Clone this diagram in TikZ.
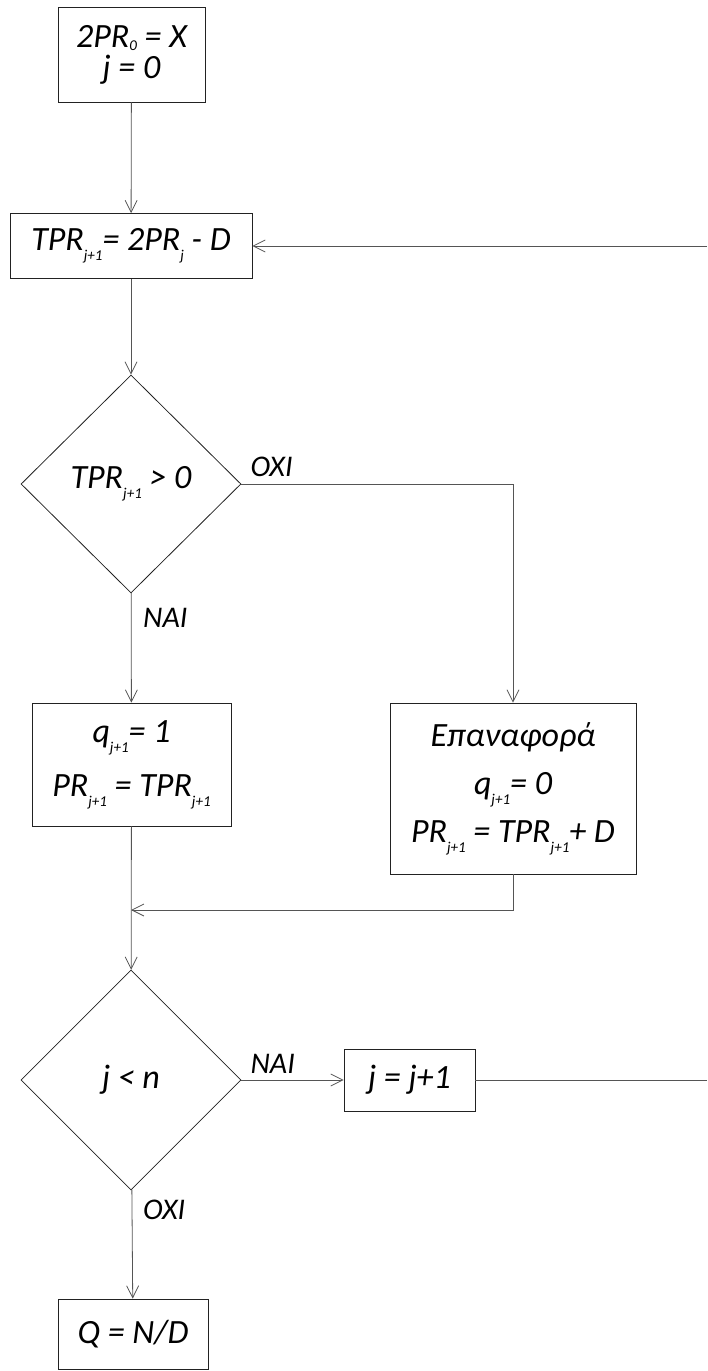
\documentclass[tikz,border=0pt]{standalone}
\usepackage{fontspec}
\setmainfont{Carlito}
\usetikzlibrary{positioning,arrows.meta,shapes.geometric}
\definecolor{ink}{HTML}{222222}
\definecolor{wire}{HTML}{555555}
% small lowered index, as in the drawing
\newcommand{\ix}[2][-10pt]{\raisebox{#1}{\fontsize{15}{15}\selectfont #2}}

\begin{document}
\begin{tikzpicture}[x=1pt, y=-1pt, >={Straight Barb[length=12pt,width=12pt]},
    font=\fontsize{34}{40}\selectfont\itshape]
  \tikzset{
    stepbox/.style={draw=ink, line width=0.8pt, align=center, inner sep=0pt},
    test/.style={draw=ink, line width=0.8pt, diamond, align=center, inner sep=0pt,
      minimum width=220pt, minimum height=218pt},
    flow/.style={draw=wire, line width=0.8pt, ->},
    wire line/.style={draw=wire, line width=0.8pt},
    tag/.style={font=\fontsize{30}{32}\selectfont\itshape, inner sep=0pt, anchor=base west}
  }
  \useasboundingbox (0,0) rectangle (707,1371);

  % start and trial subtraction
  \node[stepbox, minimum width=147pt, minimum height=95pt] (init) at (131.5,54.5)
    {2PR\ix[-3pt]{0} = X\\[-9pt] j = 0};
  \node[stepbox, minimum width=242pt, minimum height=65pt] (trial) at (131,246)
    {TPR\ix{j+1}= 2PR\ix{j} - D};
  \coordinate (loopin) at (707,246);

  % sign test
  \node[test] (sign) at (131,484) {TPR\ix{j+1} > 0};
  \node[stepbox, minimum width=199pt, minimum height=123pt] (keep) at (131.5,764.5)
    {q\ix{j+1}= 1\\[14pt] PR\ix{j+1} = TPR\ix{j+1}};
  \node[stepbox, minimum width=246pt, minimum height=171pt] (restore) at (513,788.5)
    {Επαναφορά\\[8pt] q\ix{j+1}= 0\\[8pt] PR\ix{j+1} = TPR\ix{j+1}+ D};
  \coordinate (join) at (131,910);

  % loop test
  \node[test, minimum height=220pt] (count) at (131,1080) {j < n};
  \node[stepbox, minimum width=131pt, minimum height=62pt] (next) at (409.5,1080) {j = j+1};
  \coordinate (loopout) at (707,1080);
  \node[stepbox, minimum width=150pt, minimum height=70pt] (done) at (133,1334) {Q = N/D};

  % labels
  \node[tag] at ([xshift=9pt, yshift=8pt]sign.east) {ΟΧΙ};
  \node[tag] at ([xshift=12pt, yshift=-34pt]sign.south) {ΝΑΙ};
  \node[tag] at ([xshift=9pt, yshift=7pt]count.east) {ΝΑΙ};
  \node[tag] at ([xshift=12pt, yshift=-29pt]count.south) {ΟΧΙ};

  % connectors
  \draw[flow] (init) -- (trial);
  \draw[flow] (loopin) -- (trial.east);
  \draw[flow] (trial) -- (sign);
  \draw[flow] (sign.east) -| (restore.north);
  \draw[flow] (sign) -- (keep);
  \draw[flow] (keep) -- (count);
  \draw[flow] (restore.south) |- (join);
  \draw[flow] (count.east) -- (next.west);
  \draw[wire line] (next.east) -- (loopout);
  \draw[flow] (count) -- (done);
\end{tikzpicture}
\end{document}
